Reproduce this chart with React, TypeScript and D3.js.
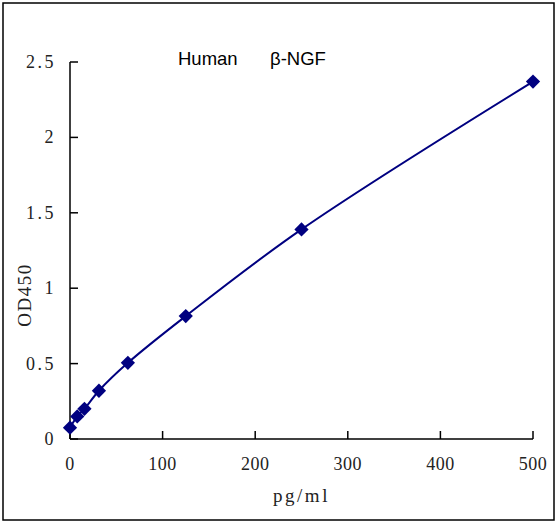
import React, { useEffect, useRef } from 'react';
import * as d3 from 'd3';

const concentrations = [0, 7.8, 15.6, 31.25, 62.5, 125, 250, 500];
const odValues = [0.075, 0.15, 0.2, 0.32, 0.505, 0.815, 1.39, 2.37];
const xTicks = [0, 100, 200, 300, 400, 500];
const yTicks = [0, 0.5, 1, 1.5, 2, 2.5];

const width = 557;
const height = 524;
const margin = { top: 62, right: 24, bottom: 85, left: 70 };
const navy = '#000080';

export default function App() {
  const svgRef = useRef<SVGSVGElement>(null);

  useEffect(() => {
    document.body.style.margin = '0';
    if (!svgRef.current) return;
    const svg = d3.select(svgRef.current);
    svg.selectAll('*').remove();

    const x = d3.scaleLinear().domain([0, 500]).range([margin.left, width - margin.right]);
    const y = d3.scaleLinear().domain([0, 2.5]).range([height - margin.bottom, margin.top]);

    // outer frame
    svg.append('rect')
      .attr('x', 3).attr('y', 3)
      .attr('width', width - 6).attr('height', height - 7)
      .attr('fill', 'white')
      .attr('stroke', '#000')
      .attr('stroke-width', 1.5);

    const axisG = svg.append('g')
      .attr('stroke', '#000')
      .attr('stroke-width', 1.5)
      .attr('fill', 'none');

    axisG.append('line')
      .attr('x1', x(0)).attr('x2', x(500))
      .attr('y1', y(0)).attr('y2', y(0));
    axisG.append('line')
      .attr('x1', x(0)).attr('x2', x(0))
      .attr('y1', y(0)).attr('y2', y(2.5));

    axisG.selectAll('.xt').data(xTicks).enter().append('line')
      .attr('x1', d => x(d)).attr('x2', d => x(d))
      .attr('y1', y(0)).attr('y2', y(0) - 8);
    axisG.selectAll('.yt').data(yTicks).enter().append('line')
      .attr('x1', x(0)).attr('x2', x(0) + 8)
      .attr('y1', d => y(d)).attr('y2', d => y(d));

    const serif = '"Liberation Serif", "DejaVu Serif", serif';

    svg.selectAll('.xl').data(xTicks).enter().append('text')
      .attr('x', d => x(d))
      .attr('y', y(0) + 31)
      .attr('text-anchor', 'middle')
      .style('font-family', serif)
      .style('font-size', '18px')
      .style('letter-spacing', '0.5px')
      .style('fill', '#222')
      .text(d => String(d));

    svg.selectAll('.yl').data(yTicks).enter().append('text')
      .attr('x', x(0) - 14)
      .attr('y', d => y(d) + 6)
      .attr('text-anchor', 'end')
      .style('font-family', serif)
      .style('font-size', '18px')
      .style('letter-spacing', '2.5px')
      .style('fill', '#222')
      .text(d => String(d));

    svg.append('text')
      .attr('x', (x(0) + x(500)) / 2)
      .attr('y', 502)
      .attr('text-anchor', 'middle')
      .style('font-family', serif)
      .style('font-size', '19px')
      .style('letter-spacing', '2.5px')
      .style('fill', '#222')
      .text('pg/ml');

    svg.append('text')
      .attr('transform', `translate(31, 295) rotate(-90)`)
      .attr('text-anchor', 'middle')
      .style('font-family', serif)
      .style('font-size', '19px')
      .style('letter-spacing', '1.5px')
      .style('fill', '#222')
      .text('OD450');

    const sans = '"Liberation Sans", Arial, sans-serif';
    svg.append('text')
      .attr('x', 178).attr('y', 65)
      .style('font-family', sans)
      .style('font-size', '18.5px')
      .text('Human');
    svg.append('text')
      .attr('x', 270).attr('y', 65)
      .style('font-family', sans)
      .style('font-size', '18.5px')
      .text('β-NGF');

    const pts: [number, number][] = concentrations.map((c, i) => [c, odValues[i]]);

    const line = d3.line<[number, number]>()
      .x(d => x(d[0]))
      .y(d => y(d[1]))
      .curve(d3.curveCatmullRom.alpha(0.5));

    svg.append('path')
      .datum(pts)
      .attr('d', line)
      .attr('fill', 'none')
      .attr('stroke', navy)
      .attr('stroke-width', 2);

    const diamond = d3.symbol().type(d3.symbolDiamond2).size(130);
    svg.selectAll('.pt').data(pts).enter().append('path')
      .attr('d', diamond)
      .attr('transform', d => `translate(${x(d[0])}, ${y(d[1])})`)
      .attr('fill', navy);
  }, []);

  return <svg ref={svgRef} width={width} height={height} style={{ display: 'block' }} />;
}
